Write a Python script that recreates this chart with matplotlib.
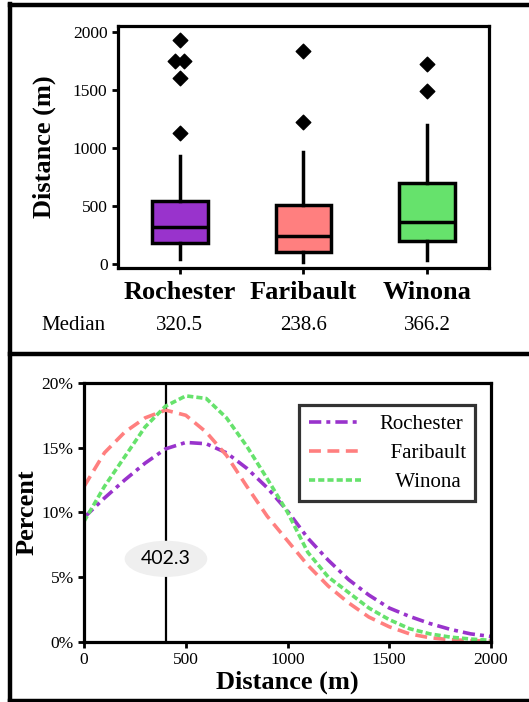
import matplotlib
matplotlib.use('Agg')
from matplotlib import pyplot as plt
from matplotlib.lines import Line2D

plt.rcParams['font.family'] = ['Liberation Serif', 'DejaVu Serif']

# box plot summary (m)
cities = ['Rochester', 'Faribault', 'Winona']
medians = [320.5, 238.6, 366.2]
q1 = [184, 108, 201]
q3 = [540, 506, 700]
whislo = [43, 22, 37]
whishi = [933, 961, 1195]
outliers = [[1928, 1745, 1745, 1601, 1132], [1835, 1225], [1724, 1487]]
outlier_shift = [[0, -0.035, 0.035, 0, 0], [0, 0], [0, 0]]
box_colors = ['#9933CC', '#FF7F7F', '#66E26C']

# distance distribution curves (percent)
dist = [0, 100, 200, 300, 400, 500, 600, 700, 800, 900, 1000,
        1100, 1200, 1300, 1400, 1500, 1600, 1700, 1800, 1900, 2000]
pct_rochester = [9.6, 11.1, 12.5, 13.8, 14.9, 15.4, 15.3, 14.6, 13.4, 11.9, 10.1,
                 8.0, 6.3, 4.8, 3.6, 2.6, 1.95, 1.4, 0.95, 0.6, 0.4]
pct_faribault = [12.0, 14.6, 16.2, 17.3, 17.9, 17.5, 16.2, 14.4, 12.0, 9.7, 7.8,
                 5.9, 4.3, 3.0, 1.9, 1.15, 0.6, 0.3, 0.15, 0.08, 0.05]
pct_winona = [9.3, 12.0, 14.3, 16.6, 18.2, 19.0, 18.8, 17.3, 15.1, 12.6, 10.0,
              6.9, 5.0, 3.8, 2.6, 1.7, 1.0, 0.6, 0.35, 0.2, 0.1]
overall_median = 402.3

fig = plt.figure(figsize=(5.29, 7.02), dpi=100)

# ---- top panel: box plots ----
ax1 = fig.add_axes([0.223, 0.618, 0.701, 0.345])
stats = []
for i in range(3):
    stats.append(dict(med=medians[i], q1=q1[i], q3=q3[i],
                      whislo=whislo[i], whishi=whishi[i], fliers=[]))
bp = ax1.bxp(stats, positions=[1, 2, 3], widths=0.45, patch_artist=True,
             showcaps=False, showfliers=False,
             boxprops=dict(linewidth=2.5, edgecolor='black'),
             whiskerprops=dict(linewidth=2.5, color='black'),
             medianprops=dict(linewidth=2.5, color='black'))
for patch, c in zip(bp['boxes'], box_colors):
    patch.set_facecolor(c)
for i in range(3):
    xs = [i + 1 + s for s in outlier_shift[i]]
    ax1.scatter(xs, outliers[i], marker='D', s=55, color='black', zorder=3)

ax1.set_xlim(0.5, 3.5)
ax1.set_ylim(-35, 2050)
ax1.set_yticks([0, 500, 1000, 1500, 2000])
ax1.set_xticks([1, 2, 3])
ax1.set_xticklabels(cities, fontsize=19, fontweight='bold')
ax1.set_ylabel('Distance (m)', fontsize=19, fontweight='bold', labelpad=12)
ax1.tick_params(axis='y', labelsize=12.5, width=2, length=4)
ax1.tick_params(axis='x', width=2, length=4, pad=5)
for sp in ax1.spines.values():
    sp.set_linewidth(2.3)
ax1.text(-0.121, -0.236, 'Median', transform=ax1.transAxes, fontsize=15,
         ha='center', va='center')
for i in range(3):
    ax1.text(i + 1, -0.236, str(medians[i]), transform=ax1.get_xaxis_transform(),
             fontsize=15, ha='center', va='center')

# ---- bottom panel: distributions ----
ax2 = fig.add_axes([0.159, 0.086, 0.769, 0.3685])
ax2.plot(dist, pct_rochester, color='#9933CC', linewidth=2.6,
         dashes=(3.4, 1.4, 1.1, 1.4), label='Rochester')
ax2.plot(dist, pct_faribault, color='#FF7F7F', linewidth=2.6,
         dashes=(3.3, 1.8), label='  Faribault')
ax2.plot(dist, pct_winona, color='#66E26C', linewidth=2.6,
         dashes=(1.7, 0.85), label='   Winona')
ax2.axvline(overall_median, color='black', linewidth=1.6, zorder=1)
ax2.text(overall_median, 6.4, '402.3', fontsize=14, family=['Lato', 'DejaVu Sans'],
         ha='center', va='center', zorder=4,
         bbox=dict(boxstyle='ellipse,pad=0.22', facecolor='#efefef', edgecolor='none'))
ax2.set_xlim(0, 2000)
ax2.set_ylim(0, 20)
ax2.set_xticks([0, 500, 1000, 1500, 2000])
ax2.set_yticks([0, 5, 10, 15, 20])
ax2.set_yticklabels(['0%', '5%', '10%', '15%', '20%'])
ax2.set_xlabel('Distance (m)', fontsize=19, fontweight='bold', labelpad=2)
ax2.set_ylabel('Percent', fontsize=19, fontweight='bold', labelpad=2)
ax2.tick_params(axis='both', labelsize=12.5, width=2, length=4)
for sp in ax2.spines.values():
    sp.set_linewidth(2.3)
leg = ax2.legend(loc='upper right', bbox_to_anchor=(0.961, 0.915), fontsize=15,
                 frameon=True, fancybox=False, edgecolor='black', borderaxespad=0,
                 handlelength=2.5, handletextpad=0.9, borderpad=0.45,
                 labelspacing=0.45)
leg.get_frame().set_linewidth(2.3)

# ---- panel frames ----
frame_lw = 3.2
fig.add_artist(Line2D([0.019, 0.019], [0.0, 0.995], transform=fig.transFigure,
                      color='black', linewidth=frame_lw))
fig.add_artist(Line2D([0.019, 1.0], [0.993, 0.993], transform=fig.transFigure,
                      color='black', linewidth=frame_lw))
fig.add_artist(Line2D([0.019, 1.0], [0.496, 0.496], transform=fig.transFigure,
                      color='black', linewidth=frame_lw))
fig.add_artist(Line2D([0.019, 1.0], [0.002, 0.002], transform=fig.transFigure,
                      color='black', linewidth=frame_lw))

fig.savefig('out.png', dpi=100)
